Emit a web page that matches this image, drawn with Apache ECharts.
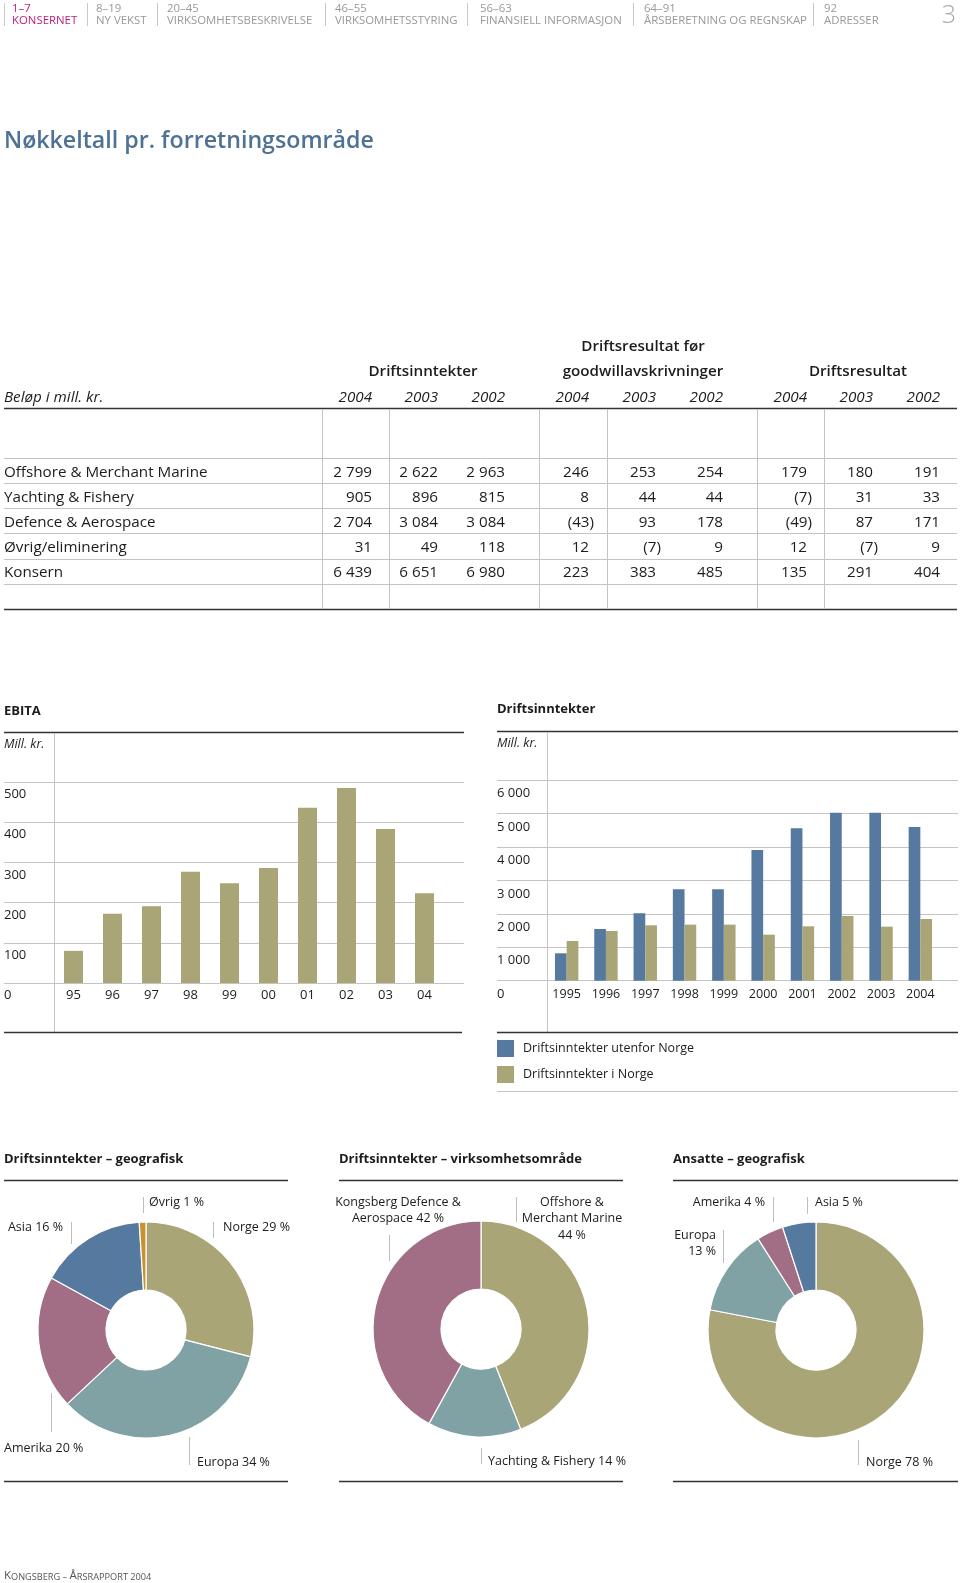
<!DOCTYPE html>
<html>
<head>
<meta charset="utf-8">
<script src="https://cdn.jsdelivr.net/npm/echarts@6/dist/echarts.min.js"></script>
<style>
html,body{margin:0;padding:0;background:#fff;}
#main{width:960px;height:1583px;}
</style>
</head>
<body>
<div id="main"></div>
<script>
// ---------- DATA ----------
const navItems = [
  ['1–7', 'KONSERNET'],
  ['8–19', 'NY VEKST'],
  ['20–45', 'VIRKSOMHETSBESKRIVELSE'],
  ['46–55', 'VIRKSOMHETSSTYRING'],
  ['56–63', 'FINANSIELL INFORMASJON'],
  ['64–91', 'ÅRSBERETNING OG REGNSKAP'],
  ['92', 'ADRESSER']
];
const pageTitle = 'Nøkkeltall pr. forretningsområde';
const tableGroups = [['Driftsinntekter'], ['Driftsresultat før', 'goodwillavskrivninger'], ['Driftsresultat']];
const tableYears = ['2004', '2003', '2002'];
const tableRows = ['Offshore & Merchant Marine', 'Yachting & Fishery', 'Defence & Aerospace', 'Øvrig/eliminering', 'Konsern'];
const revenueTable = [[2799, 2622, 2963], [905, 896, 815], [2704, 3084, 3084], [31, 49, 118], [6439, 6651, 6980]];
const preGoodwillTable = [[246, 253, 254], [8, 44, 44], [-43, 93, 178], [12, -7, 9], [223, 383, 485]];
const opResultTable = [[179, 180, 191], [-7, 31, 33], [-49, 87, 171], [12, -7, 9], [135, 291, 404]];

const ebitaYears = ['95', '96', '97', '98', '99', '00', '01', '02', '03', '04'];
const ebitaValues = [80, 172, 191, 277, 248, 286, 436, 485, 383, 223];

const revYears = ['1995', '1996', '1997', '1998', '1999', '2000', '2001', '2002', '2003', '2004'];
const revAbroad = [819, 1546, 2015, 2732, 2732, 3907, 4556, 5023, 5023, 4595];
const revNorway = [1187, 1486, 1656, 1676, 1676, 1376, 1626, 1934, 1616, 1844];
const revSeriesNames = ['Driftsinntekter utenfor Norge', 'Driftsinntekter i Norge'];

const geoNames = ['Norge', 'Europa', 'Amerika', 'Asia', 'Øvrig'];
const geoValues = [29, 34, 20, 16, 1];
const segNames = ['Offshore &\nMerchant Marine', 'Yachting & Fishery', 'Kongsberg Defence &\nAerospace'];
const segValues = [44, 14, 42];
const empNames = ['Norge', 'Europa', 'Amerika', 'Asia'];
const empValues = [78, 13, 4, 5];

// ---------- STYLE / LAYOUT ----------
const FONT = "'Open Sans', 'Noto Sans', sans-serif";
const TXT = '#1c1c1c';
const GRID = '#c4c4c4';
const RULE = '#333333';
const KHAKI = '#aaa577';
const BLUE = '#56799f';
const TEAL = '#81a2a5';
const MAUVE = '#a16e86';
const ORANGE = '#c8922e';

function txt(x, y, text, o) {
  o = o || {};
  return {
    type: 'text', x: x, y: y, silent: true,
    style: {
      text: text, fill: o.fill || TXT, fontFamily: FONT,
      fontSize: o.size || 13, fontWeight: o.weight || 'normal', fontStyle: o.style || 'normal',
      align: o.align || 'left', verticalAlign: o.va || 'middle', lineHeight: o.lh
    }
  };
}
function hl(x1, x2, y, c, w) {
  return { type: 'line', silent: true, shape: { x1: x1, y1: y, x2: x2, y2: y }, style: { stroke: c || GRID, lineWidth: w || 1 } };
}
function vl(x, y1, y2, c, w) {
  return { type: 'line', silent: true, shape: { x1: x, y1: y1, x2: x, y2: y2 }, style: { stroke: c || GRID, lineWidth: w || 1 } };
}
function fmt(n) {
  const s = String(Math.abs(n)).replace(/\B(?=(\d{3})+(?!\d))/g, ' ');
  return n < 0 ? '(' + s + ')' : s;
}

const g = [];
// nav
const navX = [12, 96, 167, 335, 480, 644, 824];
const navSep = [4, 87, 157, 325, 467, 633, 813];
navItems.forEach(function (it, i) {
  const col = i === 0 ? '#c01f78' : '#999999';
  g.push(vl(navSep[i] + 0.5, 3, 26, '#c8c8c8', 1));
  g.push(txt(navX[i], 8.5, it[0], { fill: col, size: 11.4 }));
  g.push(txt(navX[i], 20.5, it[1], { fill: col, size: 11.4 }));
});
g.push(txt(956, 16, '3', { fill: '#a8a8a8', size: 25, align: 'right', weight: 300 }));
// title
g.push(txt(4, 141.5, pageTitle, { fill: '#4e7196', size: 23.2, weight: 600 }));

// table
const TS = 15.2;
const colRight = [[372, 438, 505], [589, 656, 723], [807, 873, 940]];
const groupCenter = [423, 643, 858];
const tables = [revenueTable, preGoodwillTable, opResultTable];
g.push(txt(4, 397.5, 'Beløp i mill. kr.', { size: TS, style: 'italic' }));
tableGroups.forEach(function (lines, gi) {
  if (lines.length === 2) {
    g.push(txt(groupCenter[gi], 346.5, lines[0], { size: TS, weight: 600, align: 'center' }));
    g.push(txt(groupCenter[gi], 371.5, lines[1], { size: TS, weight: 600, align: 'center' }));
  } else {
    g.push(txt(groupCenter[gi], 371.5, lines[0], { size: TS, weight: 600, align: 'center' }));
  }
  tableYears.forEach(function (yr, ci) {
    g.push(txt(colRight[gi][ci], 397.5, yr, { size: TS, style: 'italic', align: 'right' }));
  });
});
g.push(hl(4, 957, 408.5, RULE, 1.6));
g.push(hl(4, 957, 609.5, RULE, 1.6));
[458, 483, 508, 533, 559, 584].forEach(function (y) { g.push(hl(4, 957, y + 0.5, GRID, 1)); });
[322, 389, 539, 607, 757, 824].forEach(function (x) { g.push(vl(x + 0.5, 409, 609, GRID, 1)); });
const rowY = [472.5, 497.5, 522.5, 547.5, 572.5];
tableRows.forEach(function (name, ri) {
  g.push(txt(4, rowY[ri], name, { size: TS }));
  tables.forEach(function (tb, gi) {
    tb[ri].forEach(function (v, ci) {
      g.push(txt(colRight[gi][ci] + (v < 0 ? 5 : 0), rowY[ri], fmt(v), { size: TS, align: 'right' }));
    });
  });
});

// EBITA frame
g.push(txt(4, 711.5, 'EBITA', { size: 13, weight: 700 }));
g.push(hl(4, 464, 732.5, RULE, 1.3));
g.push(txt(4, 744.5, 'Mill. kr.', { size: 12.5, style: 'italic' }));
g.push(vl(54.5, 733, 1032, GRID, 1));
g.push(hl(4, 462, 1032.5, RULE, 1.3));
// Revenue frame
g.push(txt(497, 709.5, 'Driftsinntekter', { size: 13, weight: 700 }));
g.push(hl(497, 958, 731.5, RULE, 1.3));
g.push(txt(497, 743.5, 'Mill. kr.', { size: 12.5, style: 'italic' }));
g.push(vl(547.5, 732, 1032, GRID, 1));
g.push(hl(497, 958, 1032.5, RULE, 1.3));
g.push(hl(497, 958, 1091.5, GRID, 1));

// pies frame
const pieTitles = ['Driftsinntekter – geografisk', 'Driftsinntekter – virksomhetsområde', 'Ansatte – geografisk'];
const pieTitleX = [4, 339, 673];
const pieRuleX = [[4, 288], [339, 623], [673, 958]];
pieTitles.forEach(function (t, i) {
  g.push(txt(pieTitleX[i], 1159.5, t, { size: 13, weight: 700 }));
  g.push(hl(pieRuleX[i][0], pieRuleX[i][1], 1180.5, RULE, 1.3));
  g.push(hl(pieRuleX[i][0], pieRuleX[i][1], 1481.5, RULE, 1.3));
});
// leader lines
[[143, 1197, 1213], [213, 1222, 1238], [71, 1222, 1244], [51, 1393, 1432], [189, 1437, 1465],
 [389, 1235, 1261], [516, 1197, 1222], [481, 1448, 1464],
 [773, 1197, 1222], [807, 1197, 1214], [723, 1230, 1263], [858, 1440, 1465]].forEach(function (l) {
  g.push(vl(l[0] + 0.5, l[1], l[2], '#bdbdbd', 1));
});
// footer (small caps)
g.push({
  type: 'text', x: 4, y: 1582, silent: true,
  style: {
    text: '{a|K}{b|ONGSBERG – }{a|Å}{b|RSRAPPORT 2004}', verticalAlign: 'bottom',
    rich: {
      a: { fontFamily: FONT, fontSize: 11.5, fill: '#555', verticalAlign: 'bottom' },
      b: { fontFamily: FONT, fontSize: 9.2, fill: '#555', verticalAlign: 'bottom' }
    }
  }
});

// pie label layout
const pieLabelPos = [
  [[223, 1227, 'left'], [197, 1462, 'left'], [4, 1448, 'left'], [63, 1227, 'right'], [149, 1202, 'left']],
  [[572, 1218, 'center'], [488, 1461, 'left'], [398, 1210, 'center']],
  [[866, 1462, 'left'], [716, 1243, 'right'], [765, 1202, 'right'], [815, 1202, 'left']]
];
const pieSep = [[' ', ' ', ' ', ' ', ' '], ['\n', ' ', ' '], [' ', '\n', ' ', ' ']];

function pieSeries(idx, names, values, colors, center) {
  return {
    type: 'pie', center: center, radius: [40, 108], startAngle: 90, clockwise: true,
    avoidLabelOverlap: false, silent: true,
    itemStyle: { borderColor: '#fff', borderWidth: 1.2 },
    label: {
      show: true, position: 'outside', color: TXT, fontFamily: FONT, fontSize: 12.5, lineHeight: 16.5,
      formatter: function (p) { return p.name + pieSep[idx][p.dataIndex] + p.value + ' %'; }
    },
    labelLine: { show: false },
    labelLayout: function (p) {
      const q = pieLabelPos[idx][p.dataIndex];
      return { x: q[0], y: q[1] + 0.5, align: q[2], verticalAlign: 'middle' };
    },
    data: names.map(function (n, i) { return { name: n, value: values[i], itemStyle: { color: colors[i] } }; })
  };
}

const chart = echarts.init(document.getElementById('main'), null, { renderer: 'canvas' });
chart.setOption({
  animation: false,
  backgroundColor: '#fff',
  textStyle: { fontFamily: FONT },
  grid: [
    { left: 4, top: 782, width: 460, height: 201 },
    { left: 54, top: 782, width: 390, height: 201 },
    { left: 497, top: 780, width: 461, height: 200.7 },
    { left: 547, top: 780, width: 393, height: 200.7 }
  ],
  xAxis: [
    { gridIndex: 0, type: 'value', min: 0, max: 1, show: false },
    { gridIndex: 1, type: 'category', data: ebitaYears, axisLine: { show: false }, axisTick: { show: false },
      axisLabel: { color: TXT, fontSize: 13, margin: 6, fontFamily: FONT } },
    { gridIndex: 2, type: 'value', min: 0, max: 1, show: false },
    { gridIndex: 3, type: 'category', data: revYears, axisLine: { show: false }, axisTick: { show: false },
      axisLabel: { color: TXT, fontSize: 12.5, margin: 7, fontFamily: FONT } }
  ],
  yAxis: [
    { gridIndex: 0, type: 'value', min: 0, max: 500, interval: 100, axisLine: { show: false }, axisTick: { show: false },
      splitLine: { lineStyle: { color: GRID, width: 1 } },
      axisLabel: { inside: true, margin: 0, color: TXT, fontSize: 13, verticalAlign: 'top', lineHeight: 25, fontFamily: FONT } },
    { gridIndex: 1, type: 'value', min: 0, max: 500, interval: 100, show: false },
    { gridIndex: 2, type: 'value', min: 0, max: 6000, interval: 1000, axisLine: { show: false }, axisTick: { show: false },
      splitLine: { lineStyle: { color: GRID, width: 1 } },
      axisLabel: { inside: true, margin: 0, color: TXT, fontSize: 13, verticalAlign: 'top', lineHeight: 27, fontFamily: FONT,
        formatter: function (v) { return fmt(v); } } },
    { gridIndex: 3, type: 'value', min: 0, max: 6000, interval: 1000, show: false }
  ],
  legend: {
    left: 497, top: 1040, orient: 'vertical', icon: 'rect', itemWidth: 17, itemHeight: 17, itemGap: 9, padding: 0,
    selectedMode: false, data: revSeriesNames,
    textStyle: { color: TXT, fontSize: 12.5, fontFamily: FONT, padding: [1, 0, 0, 4] }
  },
  graphic: { elements: g },
  series: [
    { type: 'bar', name: 'EBITA', xAxisIndex: 1, yAxisIndex: 1, data: ebitaValues, barWidth: 19, itemStyle: { color: KHAKI }, silent: true },
    { type: 'bar', name: revSeriesNames[0], xAxisIndex: 3, yAxisIndex: 3, data: revAbroad, barWidth: 11.7, barGap: '0%', itemStyle: { color: BLUE }, silent: true },
    { type: 'bar', name: revSeriesNames[1], xAxisIndex: 3, yAxisIndex: 3, data: revNorway, barWidth: 11.7, barGap: '0%', itemStyle: { color: KHAKI }, silent: true },
    pieSeries(0, geoNames, geoValues, [KHAKI, TEAL, MAUVE, BLUE, ORANGE], [146, 1330]),
    pieSeries(1, segNames, segValues, [KHAKI, TEAL, MAUVE], [481, 1329]),
    pieSeries(2, empNames, empValues, [KHAKI, TEAL, MAUVE, BLUE], [816, 1330])
  ]
});
</script>
</body>
</html>
